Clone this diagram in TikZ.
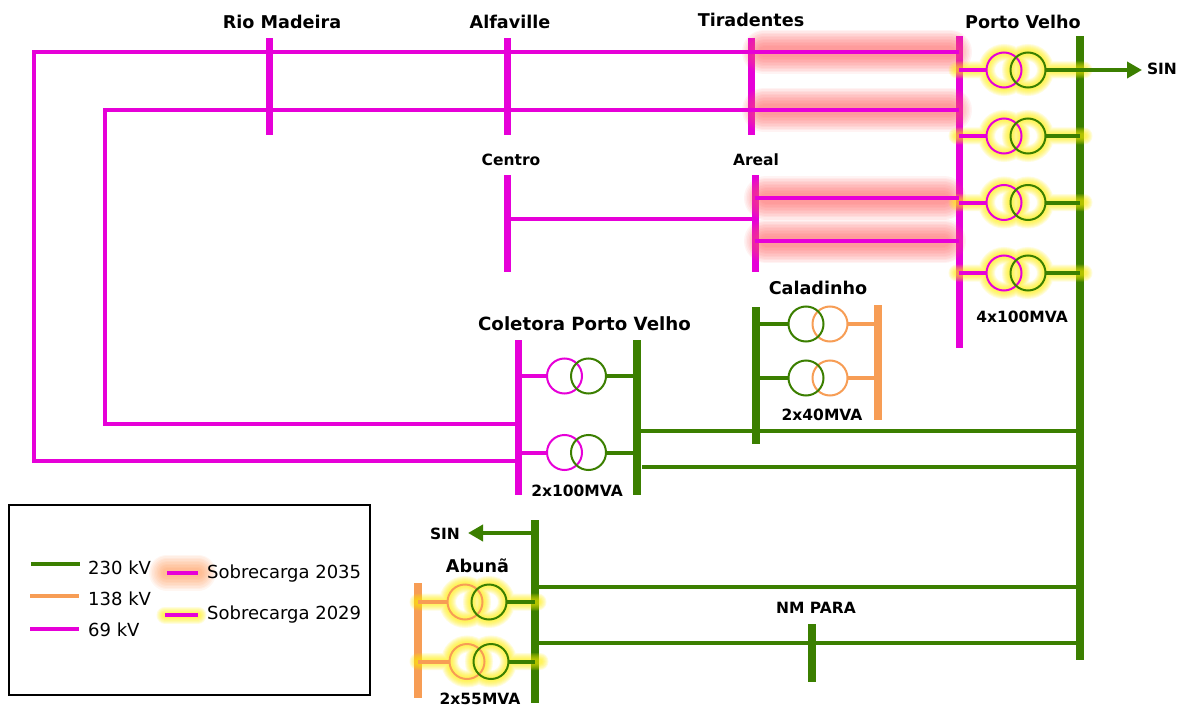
\documentclass[tikz,border=0pt]{standalone}
\usepackage{fontspec}
\setmainfont{DejaVu Sans}
\definecolor{mag}{HTML}{E600D8}
\definecolor{grn}{HTML}{3B7F00}
\definecolor{org}{HTML}{F79D55}
\definecolor{glowr}{HTML}{FF6060}
\definecolor{glowy}{HTML}{FFF000}
\definecolor{glowo}{HTML}{FF8A3C}
\newcommand{\glowwide}[2]{\foreach \w in {44,41,38,35,32,29,26,23,20,17,14,11}{\draw[#1,line width=\w pt,opacity=.075,line cap=round] #2;}}
\newcommand{\glowthin}[2]{\foreach \w in {17,15,13,11,9,7,5}{\draw[#1,line width=\w pt,opacity=.13,line cap=round] #2;}}
\newcommand{\xfglow}[4]{\glowthin{glowy}{(#3,#2) -- (#1-17.5,#2) (#1+41.5,#2) -- (#4,#2) (#1,#2) circle (17.5) (#1+24,#2) circle (17.5)}}
\tikzset{
 x=1pt,y=-1pt,
 busm/.style={rectangle,inner sep=0pt,outer sep=0pt,fill=mag,minimum width=7,draw=none},
 busg/.style={rectangle,inner sep=0pt,outer sep=0pt,fill=grn,minimum width=7.5,draw=none},
 buso/.style={rectangle,inner sep=0pt,outer sep=0pt,fill=org,minimum width=7.5,draw=none},
 linm/.style={draw=mag,line width=4pt},
 ling/.style={draw=grn,line width=4pt},
 lino/.style={draw=org,line width=4pt},
 xf/.style={circle,inner sep=0pt,outer sep=0pt,minimum size=35,line width=2pt,draw=#1},
 big/.style={font=\bfseries\fontsize{17.6}{20}\selectfont,text=black,inner sep=0pt},
 small/.style={font=\bfseries\fontsize{15.5}{17}\selectfont,text=black,inner sep=0pt},
 leg/.style={font=\fontsize{18}{20}\selectfont,text=black,inner sep=0pt,anchor=west},
 arr/.style={draw=grn,line width=4pt,-{Triangle[length=15pt,width=16pt]}},
}
\usetikzlibrary{arrows.meta}
\begin{document}
\begin{tikzpicture}
\useasboundingbox (0,0) rectangle (1178,706);
\fill[white] (0,0) rectangle (1178,706);
% buses
\node[busm,minimum height=97] (rio) at (269,86.5) {};
\node[busm,minimum height=97] (alf) at (507,86.5) {};
\node[busm,minimum height=97] (tir) at (751,86.5) {};
\node[busm,minimum height=312] (pv) at (959,192) {};
\node[busg,minimum height=624] (pvg) at (1080,348) {};
\node[busm,minimum height=97] (cen) at (507,223.5) {};
\node[busm,minimum height=97] (are) at (755,223.5) {};
\node[busm,minimum height=155] (col) at (518,417.5) {};
\node[busg,minimum height=155] (colg) at (637,417.5) {};
\node[busg,minimum height=137] (cal) at (756,375.5) {};
\node[buso,minimum height=115] (calo) at (878,362.5) {};
\node[busg,minimum height=183] (abu) at (535,611.5) {};
\node[buso,minimum height=115] (abuo) at (418,640.5) {};
\node[busg,minimum height=58] (nm) at (812,653) {};
% overload glows
\glowwide{glowr}{(764,52) -- (950,52)}
\glowwide{glowr}{(764,110) -- (950,110)}
\glowwide{glowr}{(766,198) -- (944,198)}
\glowwide{glowr}{(766,241) -- (944,241)}
\xfglow{1004}{70}{957}{1084}
\xfglow{1004}{136}{957}{1084}
\xfglow{1004}{202.5}{957}{1084}
\xfglow{1004}{273}{957}{1084}
\xfglow{465}{602}{418}{538}
\xfglow{467}{661.5}{418}{540}
% free ends
\coordinate (a1) at (34,52);
\coordinate (a2) at (34,461);
\coordinate (b1) at (105,110);
\coordinate (b2) at (105,424);
\coordinate (g1) at (642,467);
\coordinate (sinr) at (1142,70);
\coordinate (sinl) at (468,533);
% transmission lines
\draw[linm] (pv |- a1) -- (a1) -- (a2) -- (col |- a2);
\draw[linm] (pv |- b1) -- (b1) -- (b2) -- (col |- b2);
\draw[linm] (cen |- 0,219) -- (are |- 0,219);
\draw[linm] (are |- 0,198) -- (pv |- 0,198);
\draw[linm] (are |- 0,241) -- (pv |- 0,241);
\draw[ling] (colg |- 0,430.5) -- (pvg |- 0,430.5);
\draw[ling] (g1) -- (pvg |- g1);
\draw[ling] (abu |- 0,587) -- (pvg |- 0,587);
\draw[ling] (abu |- 0,643) -- (pvg |- 0,643);
\draw[arr] (pvg |- sinr) -- (sinr);
\draw[arr] (abu |- sinl) -- (sinl);
% transformers
\foreach \n/\y in {1/70,2/136,3/202.5,4/273}{
 \node[xf=mag] (pl\n) at (1004,\y) {};
 \node[xf=grn] (pr\n) at (1028,\y) {};
 \draw[linm] (pv |- pl\n) -- (pl\n);
 \draw[ling] (pr\n) -- (pvg |- pr\n);
}
\foreach \n/\y in {1/376,2/452.5}{
 \node[xf=mag] (cl\n) at (564.5,\y) {};
 \node[xf=grn] (cr\n) at (588.5,\y) {};
 \draw[linm] (col |- cl\n) -- (cl\n);
 \draw[ling] (cr\n) -- (colg |- cr\n);
}
\foreach \n/\y in {1/324,2/378}{
 \node[xf=org] (dr\n) at (830,\y) {};
 \node[xf=grn] (dl\n) at (806,\y) {};
 \draw[ling] (cal |- dl\n) -- (dl\n);
 \draw[lino] (dr\n) -- (calo |- dr\n);
}
\foreach \n/\x/\y in {1/465/602,2/467/661.5}{
 \node[xf=org] (el\n) at (\x,\y) {};
 \node[xf=grn] (er\n) at (\x+24,\y) {};
 \draw[lino] (abuo |- el\n) -- (el\n);
 \draw[ling] (er\n) -- (abu |- er\n);
}
% labels
\node[big] (t1) at (282,22) {Rio Madeira};
\node[big] (t2) at (510,22) {Alfaville};
\node[big] (t3) at (751,20) {Tiradentes};
\node[big] (t4) at (1023,22) {Porto Velho};
\node[big,font=\bfseries\fontsize{18.2}{20}\selectfont] (t5) at (584.5,324) {Coletora Porto Velho};
\node[big] (t6) at (818,288) {Caladinho};
\node[big] (t7) at (477.5,566) {Abunã};
\node[small] (s1) at (511,160) {Centro};
\node[small] (s2) at (756,160) {Areal};
\node[small] (s3) at (1022,317) {4x100MVA};
\node[small] (s4) at (822,415) {2x40MVA};
\node[small] (s5) at (577,491) {2x100MVA};
\node[small] (s6) at (480,699) {2x55MVA};
\node[small] (s7) at (816,608) {NM PARA};
\node[small] (s8) at (1162,69) {SIN};
\node[small] (s9) at (445,534) {SIN};
% legend
\node[rectangle,draw=black,line width=1.5pt,minimum width=361,minimum height=190,inner sep=0pt] (lg) at (189.5,600) {};
\coordinate (l1a) at (31,564); \coordinate (l1b) at (80,564);
\coordinate (l2a) at (30,595.5); \coordinate (l2b) at (79,595.5);
\coordinate (l3a) at (30,628.5); \coordinate (l3b) at (79,628.5);
\coordinate (l4a) at (167,572.5); \coordinate (l4b) at (198,572.5);
\coordinate (l5a) at (165,615); \coordinate (l5b) at (198,615);
\foreach \w in {36,33,30,27,24,21,18,15,12,9}{\draw[glowo,line width=\w pt,opacity=.07,line cap=round] (l4a) -- (l4b);}
\glowthin{glowy}{(l5a) -- (l5b)}
\draw[ling] (l1a) -- (l1b);
\draw[lino] (l2a) -- (l2b);
\draw[linm] (l3a) -- (l3b);
\draw[linm] (l4a) -- (l4b);
\draw[linm] (l5a) -- (l5b);
\node[leg] (n1) at (88,568) {230 kV};
\node[leg] (n2) at (88,599) {138 kV};
\node[leg] (n3) at (88,630) {69 kV};
\node[leg] (n4) at (207,574) {Sobrecarga 2035};
\node[leg] (n5) at (207,615) {Sobrecarga 2029};
\end{tikzpicture}
\end{document}
